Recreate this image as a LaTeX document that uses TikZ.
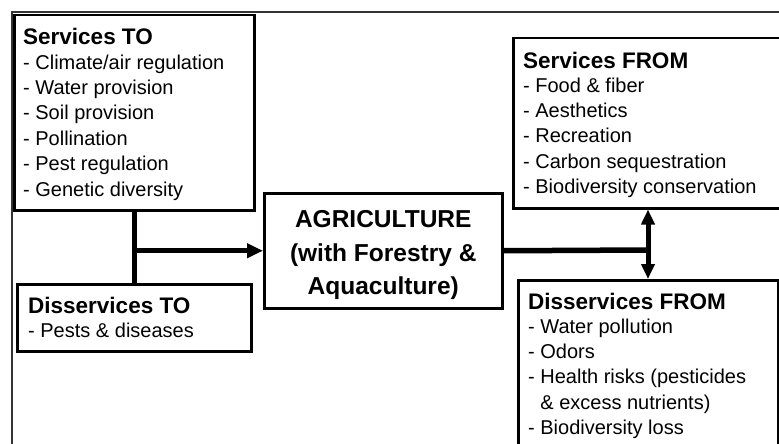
\documentclass[tikz,border=0pt]{standalone}
\usepackage{fontspec}
\setmainfont{Liberation Sans}
\usetikzlibrary{arrows.meta}

\newcommand{\headfont}{\fontsize{22.5}{26}\selectfont\bfseries}
\newcommand{\listfont}{\fontsize{20}{25.4}\selectfont}
\newcommand{\agrifont}{\fontsize{24.5}{33.5}\selectfont\bfseries}

\tikzset{
    panel/.style={draw, line width=2.5pt, anchor=north west, inner sep=0pt},
    head/.style={anchor=north west, inner sep=0pt, font=\headfont},
    items/.style={anchor=north west, inner sep=0pt, align=left, font=\listfont},
    link/.style={line width=5.5pt},
    tip/.style={line width=5pt, -{Triangle[length=16pt, width=14pt]}},
}

\begin{document}
\begin{tikzpicture}[x=1pt, y=-1pt]
    \useasboundingbox (0,0) rectangle (779,444);
    \clip (0,0) rectangle (779,444);
    %frame
    \draw [line width=1.3pt, black!80] (779,12) -- (12,12) -- (12,444);

    %services to
    \node[panel, minimum width=240, minimum height=195] (svcto) at (13,14) {};
    \node[head] (svctohead) at (23,27.5) {Services TO};
    \node[items] (svctolist) at (23,54.5) %
         {- Climate/air regulation\\- Water provision\\- Soil provision\\%
          - Pollination\\- Pest regulation\\- Genetic diversity};
    %disservices to
    \node[panel, minimum width=234, minimum height=67] (dsto) at (16,283) {};
    \node[head] (dstohead) at (28,296.5) {Disservices TO};
    \node[items] (dstolist) at (28,322.5) {- Pests \& diseases};

    %agriculture
    \node[panel, minimum width=238, minimum height=115] (agri) at (263,192) {};
    \node[align=center, inner sep=0pt, font=\agrifont] (agritext) %
         at ([yshift=-4.5pt]agri.center) %
         {AGRICULTURE\\(with Forestry \&\\Aquaculture)};

    %services from
    \node[panel, minimum width=290, minimum height=170] (svcfrom) at (512,37) {};
    \node[head] (svcfromhead) at (523,51.5) {Services FROM};
    \node[items] (svcfromlist) at (523,77.5) %
         {- Food \& fiber\\- Aesthetics\\- Recreation\\%
          - Carbon sequestration\\- Biodiversity conservation};
    %disservices from
    \node[panel, minimum width=260, minimum height=190] (dsfrom) at (517,279) {};
    \node[head] (dsfromhead) at (528,292.5) {Disservices FROM};
    \node[items] (dsfromlist) at (528,318.5) %
         {- Water pollution\\- Odors\\- Health risks (pesticides\\%
          \phantom{-}\ \& excess nutrients)\\- Biodiversity loss};

    %links
    \coordinate (leftj) at (svcto.south |- agri.west);
    \coordinate (rightj) at (648,250);
    \draw [link] (svcto.south) -- (dsto.north);
    \draw [tip] (leftj) -- (agri.west);
    \draw [link] (agri.east) -- (rightj);
    \draw [tip, {Triangle[length=15pt, width=13pt]}-{Triangle[length=15pt, width=13pt]}] %
         (rightj |- svcfrom.south) -- (rightj |- dsfrom.north);
\end{tikzpicture}
\end{document}
